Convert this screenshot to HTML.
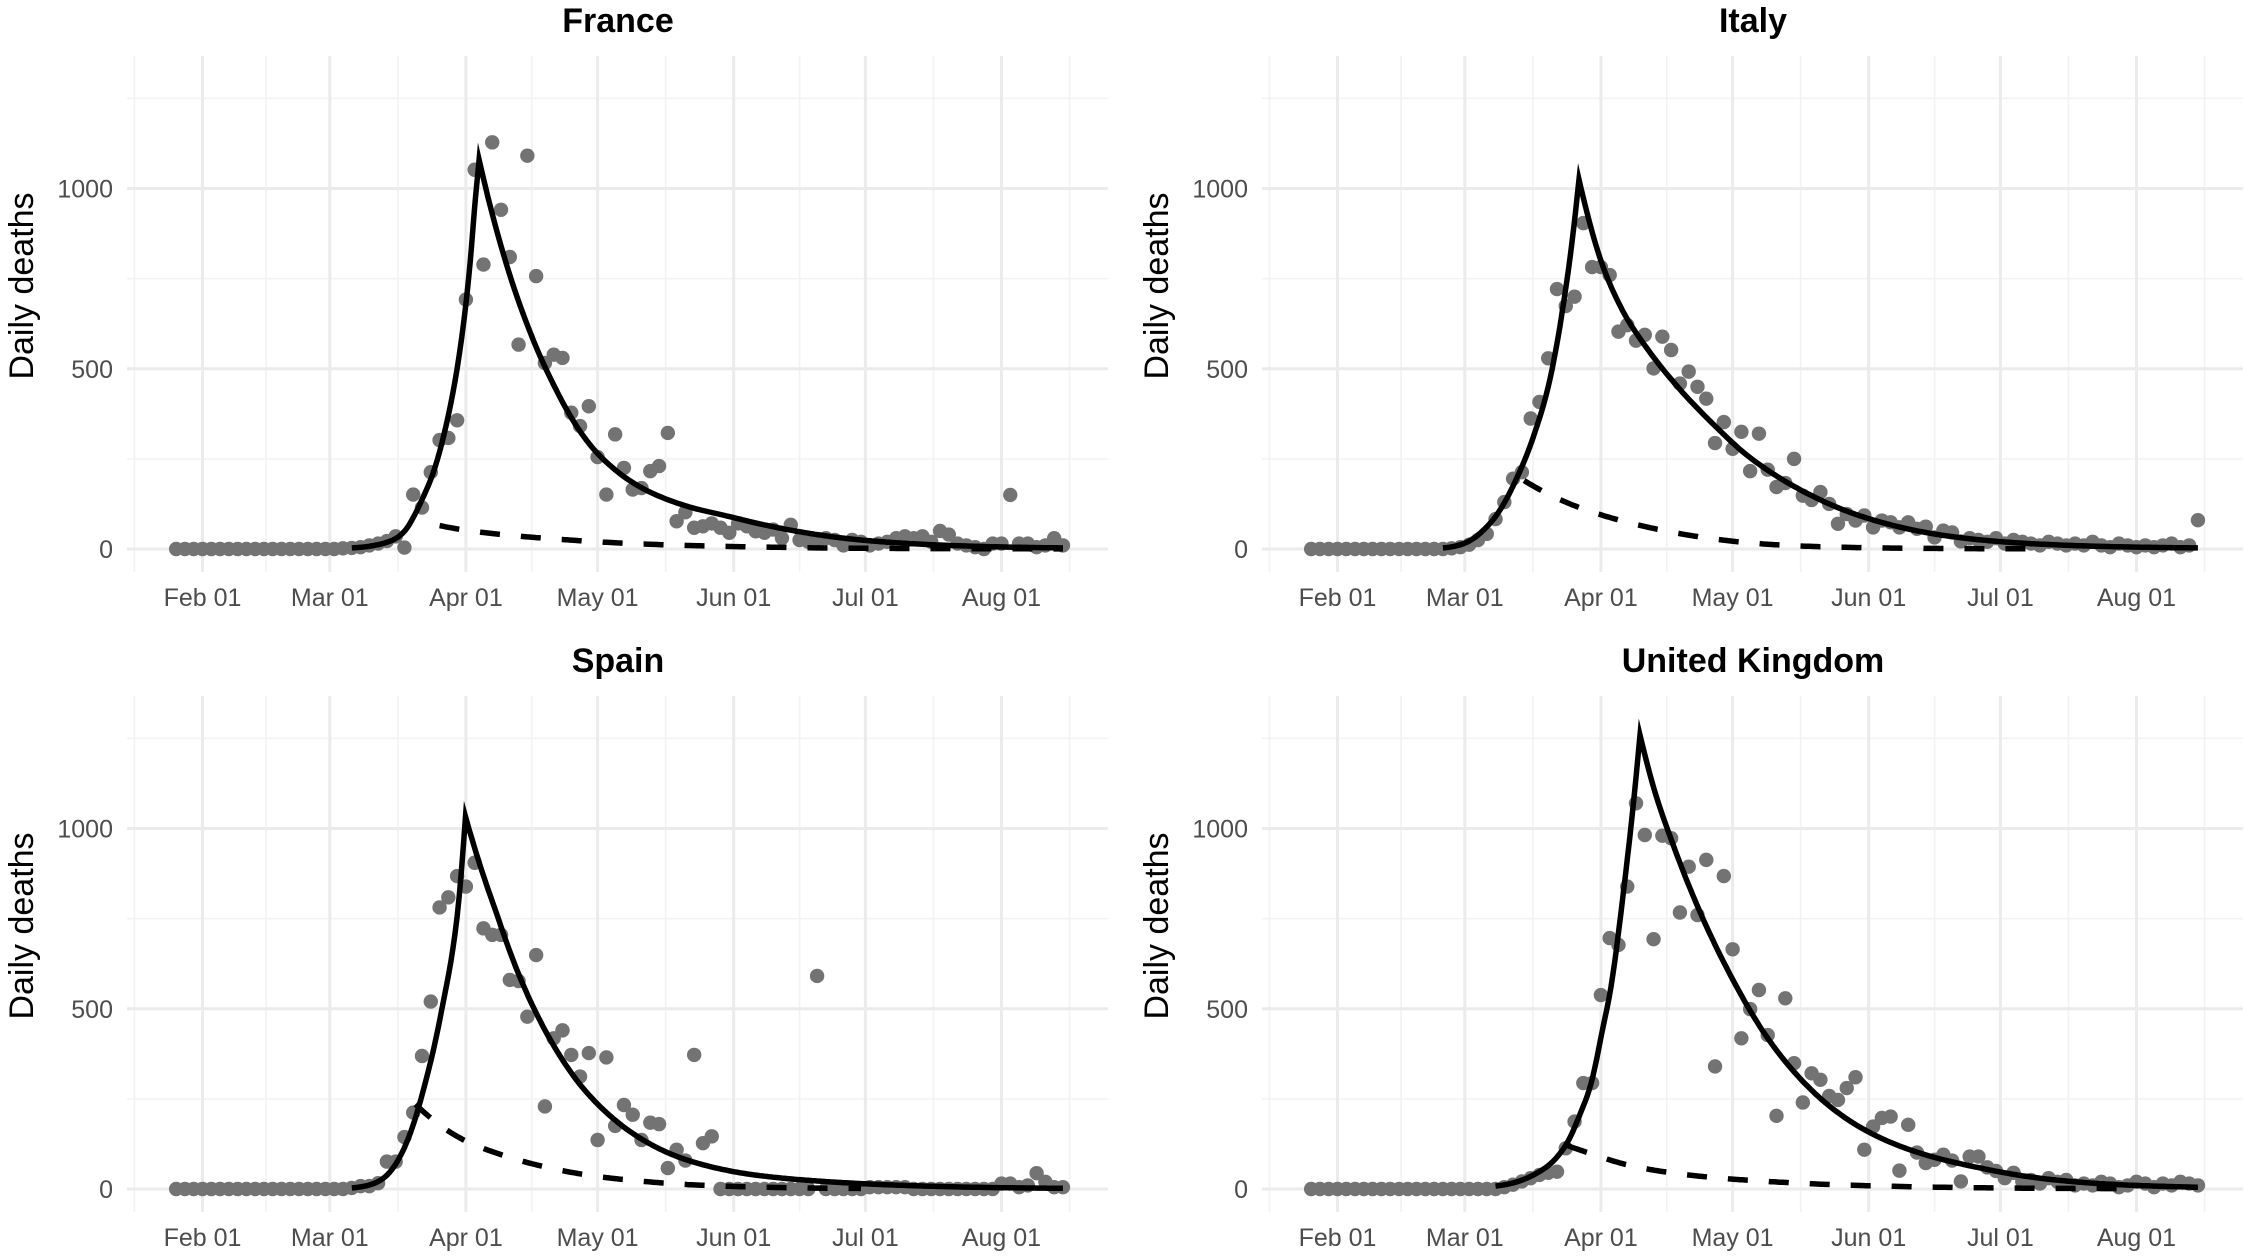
<!DOCTYPE html>
<html><head><meta charset="utf-8"><style>
html,body{margin:0;padding:0;background:#fff;}
svg{display:block;font-family:"Liberation Sans",Arial,sans-serif;}
</style></head><body>
<svg id="chart" width="2244" height="1259" viewBox="0 0 2244 1259" xmlns="http://www.w3.org/2000/svg"></svg>
<script>
const days = [-6,-4,-2,0,2,4,6,8,10,12,14,16,18,20,22,24,26,28,30,32,34,36,38,40,42,44,46,48,50,52,54,56,58,60,62,64,66,68,70,72,74,76,78,80,82,84,86,88,90,92,94,96,98,100,102,104,106,108,110,112,114,116,118,120,122,124,126,128,130,132,134,136,138,140,142,144,146,148,150,152,154,156,158,160,162,164,166,168,170,172,174,176,178,180,182,184,186,188,190,192,194,196];
const franceDeaths = [0,0,0,0,0,0,0,0,0,0,0,0,0,0,0,0,0,0,0,2,3,5,10,15,22,35,4,151,115,213,302,308,357,692,1052,789,1128,941,810,567,1091,757,516,539,530,378,341,396,255,151,318,225,165,169,216,230,322,77,102,59,63,71,59,45,71,63,49,45,54,30,67,25,20,15,30,25,10,25,20,10,15,20,30,35,30,35,20,50,40,15,10,5,0,15,15,150,15,15,5,10,30,10];
const italyDeaths = [0,0,0,0,0,0,0,0,0,0,0,0,0,0,0,0,2,5,12,25,42,83,130,195,213,362,408,529,721,674,700,904,782,782,760,603,621,578,594,501,589,552,459,492,450,417,294,352,278,325,216,320,220,172,183,250,148,136,158,125,70,97,79,93,60,79,74,60,74,56,62,32,51,46,21,30,25,20,30,15,25,20,15,10,20,15,10,15,10,20,10,5,15,10,5,10,5,10,15,5,10,80];
const spainDeaths = [0,0,0,0,0,0,0,0,0,0,0,0,0,0,0,0,0,0,0,0,3,8,8,16,76,76,144,212,369,520,781,809,868,839,905,723,705,705,580,577,478,649,229,418,440,372,312,377,136,365,175,233,206,136,184,180,58,109,79,372,127,146,0,0,0,0,0,0,0,0,0,0,0,591,0,0,0,0,0,5,5,5,5,5,0,0,0,0,0,0,0,0,0,0,15,15,5,10,44,20,5,5];
const ukDeaths = [0,0,0,0,0,0,0,0,0,0,0,0,0,0,0,0,0,0,0,0,0,0,5,12,21,30,39,45,48,113,187,294,294,538,696,677,839,1070,982,693,980,973,767,894,760,913,340,868,665,418,499,552,427,203,529,349,240,321,303,258,247,280,310,109,173,197,201,51,178,101,72,81,95,79,21,90,90,60,50,30,45,20,25,15,30,20,25,10,15,10,20,15,5,10,20,15,5,15,10,20,15,10];

const franceFitDays = [34,40,44,46,48,50,52,54,56,58,60,61,62,63,66,70,75,80,85,90,100,110,121,135,150,170,196];
const franceFit = [3,12,29,49,87,137,193,270,370,500,680,800,950,1080,930,760,590,455,345,265,170,120,87,50,25,10,3];
const franceBaseDays = [54,60,70,80,90,100,110,120,130,140,150,160,170,180,196];
const franceBase = [65,52,38,28,20,14,10,7,5,3,2,1.4,1,0.6,0.3];

const italyFitDays = [24,28,32.6,36,40,44,48,51.6,53.9,55,60,65,70.6,78.2,85.7,93.3,101,108.5,116,123.6,139,155,175,196];
const italyFit = [3,12,45,90,175,290,450,690,900,1025,800,660,555,440,345,260,195,145,105,75,36,17,7,3];
const italyBaseDays = [42.5,54,64.5,74.4,85.7,97,108.5,123.6,137,160];
const italyBase = [190,120,79,51,28,14,7,3,1.5,0.5];

const spainFitDays = [34,37,40.6,45,49.7,54.2,58,59.9,63.3,67.1,70.9,78.5,86,93.6,101.2,108.8,116.4,124,135,150,165,180,196];
const spainFit = [3,8,25,90,247,478,755,1033,895,760,630,430,290,195,130,87,60,42,27,15,8,4,2];
const spainBaseDays = [48.5,59.5,69.4,79.2,89.8,99.7,111,124,150];
const spainBase = [235,136,90,58,35,22,12,6,1.5];

const ukFitDays = [36,40,44.8,48.5,52.4,55,57.7,60,62.3,64.5,66,68.9,72.1,76.6,82.7,90.3,97.9,105.5,113.1,120.7,128.3,135.9,146.5,160,175,196];
const ukFit = [8,17,40,70,130,200,290,420,561,760,913,1259,1110,950,765,575,420,305,220,160,118,88,58,30,14,5];
const ukBaseDays = [52.5,58.5,66,76.6,87.3,97.9,113.1,128.3,142,160,180];
const ukBase = [120,95,67,44,30,21,12,7,4,2,1];

const xTickLabels = ["Feb 01","Mar 01","Apr 01","May 01","Jun 01","Jul 01","Aug 01"];
const xTickDays = [0,29,60,90,121,151,182];
const xMinorDays = [-15.5,14.5,44.5,75,105.5,136,166.5,197.5];
const yTickLabels = ["0","500","1000"];
const yTickValues = [0,500,1000];
const yMinorValues = [250,750,1250];

const NS = "http://www.w3.org/2000/svg";
const svg = document.getElementById('chart');
function mk(tag, attrs, parent){
  const e = document.createElementNS(NS, tag);
  for (const k in attrs) e.setAttribute(k, attrs[k]);
  (parent||svg).appendChild(e);
  return e;
}
// smooth in log space (monotone-ish Catmull-Rom), sampled finely
function logCurve(ds, vs, X, Y){
  const L = vs.map(v => Math.log(v));
  let d = "";
  for (let i=0;i<ds.length-1;i++){
    const x0=ds[i], x1=ds[i+1];
    const m = j => {
      if (j<=0 || j>=ds.length-1) {
        const a = Math.max(0,j-1), b = Math.min(ds.length-1,j+1);
        return (L[b]-L[a])/(ds[b]-ds[a]);
      }
      const s1 = (L[j]-L[j-1])/(ds[j]-ds[j-1]), s2 = (L[j+1]-L[j])/(ds[j+1]-ds[j]);
      if (s1*s2 <= 0) return 0;
      return (s1+s2)/2;
    };
    const m0 = m(i), m1 = m(i+1), h = x1-x0;
    const n = Math.max(4, Math.ceil(h*2));
    for (let k=0;k<=n;k++){
      if (i>0 && k===0) continue;
      const t = k/n, t2=t*t, t3=t2*t;
      const v = (2*t3-3*t2+1)*L[i] + (t3-2*t2+t)*h*m0 + (-2*t3+3*t2)*L[i+1] + (t3-t2)*h*m1;
      const px = X(x0 + t*h), py = Y(Math.exp(v));
      d += (d ? " L" : "M") + px.toFixed(1) + "," + py.toFixed(1);
    }
  }
  return d;
}

const panels = [
  {name:"France", key:"france", ox:0, oy:0, deaths:franceDeaths, fd:franceFitDays, fv:franceFit, bd:franceBaseDays, bv:franceBase},
  {name:"Italy", key:"italy", ox:1135, oy:0, deaths:italyDeaths, fd:italyFitDays, fv:italyFit, bd:italyBaseDays, bv:italyBase},
  {name:"Spain", key:"spain", ox:0, oy:640, deaths:spainDeaths, fd:spainFitDays, fv:spainFit, bd:spainBaseDays, bv:spainBase},
  {name:"United Kingdom", key:"united-kingdom", ox:1135, oy:640, deaths:ukDeaths, fd:ukFitDays, fv:ukFit, bd:ukBaseDays, bv:ukBase}
];

panels.forEach(p => {
  const g = mk('g', {});
  
  
  const X = d => p.ox + 202.5 + 4.39*d;
  const Y = v => p.oy + 549 - 0.3605*v;
  const left = p.ox + 127, right = p.ox + 1108, top = p.oy + 56, bottom = p.oy + 572;
  yMinorValues.forEach(v => {
    const l = mk('line', {x1:left, x2:right, y1:Y(v), y2:Y(v), stroke:'#f2f2f2', 'stroke-width':1.6}, g);
    
    
  });
  xMinorDays.forEach(d => {
    const l = mk('line', {x1:X(d), x2:X(d), y1:top, y2:bottom, stroke:'#f2f2f2', 'stroke-width':1.6}, g);
    
    
  });
  yTickValues.forEach((v,i) => {
    const l = mk('line', {x1:left, x2:right, y1:Y(v), y2:Y(v), stroke:'#ebebeb', 'stroke-width':3}, g);
    
    
    const t = mk('text', {x:p.ox+113, y:Y(v)+9, 'text-anchor':'end', 'font-size':25, fill:'#4d4d4d'}, g);
    t.textContent = yTickLabels[i];
    
    
  });
  xTickDays.forEach((d,i) => {
    const l = mk('line', {x1:X(d), x2:X(d), y1:top, y2:bottom, stroke:'#ebebeb', 'stroke-width':3}, g);
    
    
    const t = mk('text', {x:X(d), y:p.oy+606, 'text-anchor':'middle', 'font-size':25, fill:'#4d4d4d'}, g);
    t.textContent = xTickLabels[i];
    
    
  });
  const title = mk('text', {x:p.ox+618, y:p.oy+32, 'text-anchor':'middle', 'font-size':34, 'font-weight':'bold', fill:'#000'}, g);
  title.textContent = p.name;
  
  
  const yl = mk('text', {x:0, y:0, 'text-anchor':'middle', 'font-size':34, fill:'#000', transform:'translate('+(p.ox+33)+','+(p.oy+286)+') rotate(-90)'}, g);
  yl.textContent = 'Daily deaths';
  
  
  days.forEach((d,i) => {
    const c = mk('circle', {cx:X(d), cy:Y(p.deaths[i]), r:7.2, fill:'#737373'}, g);
    
    
  });
  let pk = 0; p.fv.forEach((v,i)=>{ if (v > p.fv[pk]) pk = i; });
  const rise = logCurve(p.fd.slice(0,pk+1), p.fv.slice(0,pk+1), X, Y);
  const fall = logCurve(p.fd.slice(pk), p.fv.slice(pk), X, Y);
  const path = mk('path', {d: rise + " " + fall.replace(/^M/, "L"), fill:'none', stroke:'#000', 'stroke-width':5.5, 'stroke-linejoin':'miter', 'stroke-miterlimit':20}, g);
  
  
  const bpath = mk('path', {d: logCurve(p.bd, p.bv, X, Y), fill:'none', stroke:'#000', 'stroke-width':5.5, 'stroke-dasharray':'20 21'}, g);
  
  
});
</script>
</body></html>
